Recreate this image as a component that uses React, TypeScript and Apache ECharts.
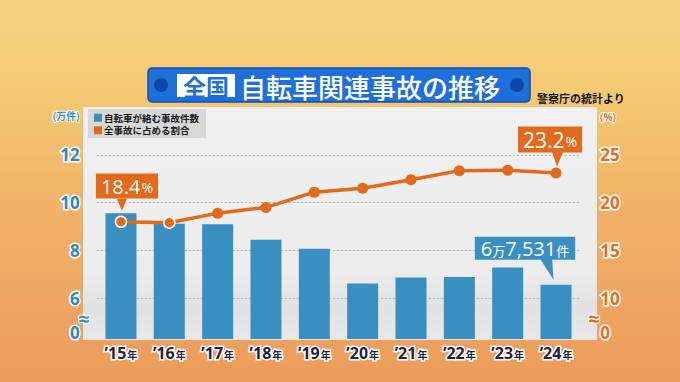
import React, { useEffect, useRef } from "react";
import * as echarts from "echarts";

// ---- data ----
const years = ["15", "16", "17", "18", "19", "20", "21", "22", "23", "24"];
// bicycle-related accidents (10k cases)
const accidents = [9.56, 9.12, 9.09, 8.45, 8.07, 6.61, 6.87, 6.89, 7.28, 6.56];
// share of all accidents (%)
const shares = [18.0, 17.9, 18.9, 19.5, 21.1, 21.5, 22.4, 23.35, 23.4, 23.1];
const leftTicks = [0, 6, 8, 10, 12];
const rightTicks = [0, 10, 15, 20, 25];
const firstShareText = "18.4";
const lastShareText = "23.2";
const lastCountText = ["6", "万", "7,531", "件"];
const seriesNames = ["自転車が絡む事故件数", "全事故に占める割合"];

// broken axis mapping
const G = 1.71;
const Y_MAX = 9.715;
const ZERO_LABEL_T = 0.29;
const tL = (v: number) => (v >= 6 ? v - 6 + G : (v * G) / 6);
const tR = (p: number) => (p >= 10 ? (p - 10) / 2.5 + G : (p * G) / 10);

const BLUE = "#3a8fc2";
const ORANGE = "#e3691b";
const FONT = "'Open Sans', 'Noto Sans CJK JP', sans-serif";
const JP = "'Noto Sans CJK JP', sans-serif";

function labelFor(t: number, ticks: number[], f: (x: number) => number) {
  if (t < 1) return "0";
  for (const v of ticks) if (Math.abs(f(v) - t) < 0.01) return String(v);
  return "";
}

function buildOption(extra: any[]) {
  const bg = new echarts.graphic.LinearGradient(0, 0, 0, 1, [
    { offset: 0, color: "#f6d382" },
    { offset: 0.25, color: "#f4c972" },
    { offset: 0.5, color: "#f1b468" },
    { offset: 0.8, color: "#eea562" },
    { offset: 1, color: "#ec9c5a" },
  ]);
  const panel = new echarts.graphic.LinearGradient(0, 0, 0, 1, [
    { offset: 0, color: "#f0f0f0" },
    { offset: 0.72, color: "#ececec" },
    { offset: 0.86, color: "#e1e1e1" },
    { offset: 1, color: "#e8e8e8" },
  ]);
  const graphic: any[] = [
    { type: "rect", z: -20, shape: { x: 0, y: 0, width: 680, height: 382 }, style: { fill: bg } },
    { type: "rect", z: -10, shape: { x: 83, y: 107, width: 514, height: 233 }, style: { fill: panel } },
    { type: "rect", z: 50, shape: { x: 148, y: 68, width: 382, height: 34, r: 4 }, style: { fill: "#1f6fdb", stroke: "#0e4fb5", lineWidth: 1.5 } },
    { type: "circle", z: 51, shape: { cx: 161, cy: 85, r: 7 }, style: { fill: "#0c46a6" } },
    { type: "circle", z: 51, shape: { cx: 517, cy: 85, r: 7 }, style: { fill: "#0c46a6" } },
    { type: "rect", z: 51, shape: { x: 177, y: 74, width: 58, height: 23 }, style: { fill: "#ffffff" } },
    { type: "text", z: 52, x: 206, y: 86, style: { text: "全国", fill: "#1f6fdb", font: `bold 23px ${JP}`, align: "center", verticalAlign: "middle" } },
    { type: "text", z: 52, x: 240, y: 86, style: { text: "自転車関連事故の推移", fill: "#ffffff", font: `500 26px ${JP}`, align: "left", verticalAlign: "middle" } },
    { type: "text", z: 52, x: 537, y: 98, style: { text: "警察庁の統計より", fill: "#111111", font: `bold 11px ${JP}`, align: "left", verticalAlign: "middle" } },
    { type: "text", z: 52, x: 80, y: 115, style: { text: "(万件)", fill: BLUE, stroke: "#ffffff", lineWidth: 2, font: `bold 10px ${JP}`, align: "right", verticalAlign: "middle" } },
    { type: "text", z: 52, x: 600, y: 117, style: { text: "(%)", fill: "#e0782a", stroke: "#ffffff", lineWidth: 2, font: `bold 10px ${FONT}`, align: "left", verticalAlign: "middle" } },
    { type: "text", z: 52, x: 84, y: 318, style: { text: "≈", fill: BLUE, stroke: "#ffffff", lineWidth: 2, font: `bold 20px ${FONT}`, align: "center", verticalAlign: "middle" } },
    { type: "text", z: 52, x: 594, y: 318, style: { text: "≈", fill: ORANGE, stroke: "#ffffff", lineWidth: 2, font: `bold 20px ${FONT}`, align: "center", verticalAlign: "middle" } },
    ...extra,
  ];

  const barData = accidents.map((v, i) =>
    i === accidents.length - 1
      ? {
          value: tL(v),
          label: {
            show: true,
            position: "top",
            distance: 25,
            offset: [-31, 0],
            backgroundColor: BLUE,
            padding: [1, 6, 0, 6],
            formatter: `{a|${lastCountText[0]}}{b|${lastCountText[1]}}{a|${lastCountText[2]}}{b|${lastCountText[3]}}`,
            rich: {
              a: { fontSize: 20, color: "#fff", fontFamily: FONT, height: 22 },
              b: { fontSize: 13, color: "#fff", fontFamily: JP, padding: [4, 0, 0, 0] },
            },
          },
        }
      : tL(v)
  );

  const lineData = shares.map((p, i) => {
    const base: any = { value: tR(p) };
    if (i < 2) base.itemStyle = { borderColor: "#ffffff", borderWidth: 1.5 };
    if (i === 0)
      base.label = {
        show: true,
        position: "top",
        distance: 17,
        offset: [6, 0],
        backgroundColor: ORANGE,
        padding: [1, 5, 0, 5],
        formatter: `{a|${firstShareText}}{b|%}`,
        rich: { a: { fontSize: 20, color: "#fff", fontFamily: FONT, height: 24 }, b: { fontSize: 14, color: "#fff", fontFamily: FONT, padding: [3, 0, 0, 1] } },
      };
    if (i === shares.length - 1)
      base.label = {
        show: true,
        position: "top",
        distance: 15,
        offset: [-6, 0],
        backgroundColor: ORANGE,
        padding: [1, 5, 0, 5],
        formatter: `{a|${lastShareText}}{b|%}`,
        rich: { a: { fontSize: 21, color: "#fff", fontFamily: FONT, height: 25 }, b: { fontSize: 14, color: "#fff", fontFamily: FONT, padding: [3, 0, 0, 1] } },
      };
    return base;
  });

  return {
    animation: false,
    textStyle: { fontFamily: FONT },
    grid: { left: 96.8, right: 99.8, top: 107, bottom: 43, containLabel: false },
    legend: {
      left: 88,
      top: 109,
      orient: "vertical",
      icon: "rect",
      itemWidth: 8,
      itemHeight: 8,
      itemGap: 3,
      padding: [4, 7, 3, 6],
      backgroundColor: "#d8d8d8",
      textStyle: { fontSize: 9.5, fontWeight: "bold", color: "#1a1a1a", fontFamily: JP, padding: [0, 0, 0, -3] },
      data: seriesNames,
    },
    graphic,
    xAxis: {
      type: "category",
      data: years,
      axisLine: { show: false },
      axisTick: { show: false },
      axisLabel: {
        interval: 0,
        margin: 6,
        formatter: (v: string) => `{a|’${v}}{b|年}`,
        rich: {
          a: { fontSize: 16, fontWeight: "bold", color: "#1c2440", textBorderColor: "#ffffff", textBorderWidth: 3, fontFamily: FONT },
          b: { fontSize: 10, fontWeight: "bold", color: "#1c2440", textBorderColor: "#ffffff", textBorderWidth: 3, fontFamily: JP, padding: [3, 0, 0, 1] },
        },
      },
    },
    yAxis: [
      {
        type: "value",
        min: 0,
        max: Y_MAX,
        axisLine: { show: false },
        axisTick: { show: false, customValues: leftTicks.slice(1).map(tL) },
        splitLine: { show: true, lineStyle: { color: "#b5b5b5", type: [2, 2], width: 1 } },
        axisLabel: {
          customValues: [ZERO_LABEL_T, ...leftTicks.slice(1).map(tL)],
          formatter: (t: number) => labelFor(t, leftTicks, tL),
          margin: 17,
          fontSize: 17,
          fontWeight: "bold",
          color: "#2f88c2",
          textBorderColor: "#ffffff",
          textBorderWidth: 3,
        },
      },
      {
        type: "value",
        min: 0,
        max: Y_MAX,
        position: "right",
        axisLine: { show: false },
        axisTick: { show: false, customValues: rightTicks.slice(1).map(tR) },
        splitLine: { show: false },
        axisLabel: {
          customValues: [ZERO_LABEL_T, ...rightTicks.slice(1).map(tR)],
          formatter: (t: number) => labelFor(t, rightTicks, tR),
          margin: 20,
          fontSize: 17,
          fontWeight: "bold",
          color: "#e0701e",
          textBorderColor: "#ffffff",
          textBorderWidth: 3,
        },
      },
    ],
    series: [
      {
        name: seriesNames[0],
        type: "bar",
        yAxisIndex: 0,
        barWidth: 31,
        itemStyle: { color: BLUE },
        data: barData,
        z: 2,
      },
      {
        name: seriesNames[1],
        type: "line",
        yAxisIndex: 1,
        symbol: "circle",
        symbolSize: 11,
        lineStyle: { color: ORANGE, width: 3.5 },
        itemStyle: { color: ORANGE },
        data: lineData,
        z: 5,
      },
    ],
  };
}

export default function App() {
  const ref = useRef<HTMLDivElement>(null);
  useEffect(() => {
    if (!ref.current) return;
    const chart = echarts.init(ref.current, null, { renderer: "svg" });
    chart.setOption(buildOption([]));
    const last = years.length - 1;
    const p0 = chart.convertToPixel({ xAxisIndex: 0, yAxisIndex: 1 }, [0, tR(shares[0])]) as number[];
    const p1 = chart.convertToPixel({ xAxisIndex: 0, yAxisIndex: 1 }, [last, tR(shares[last])]) as number[];
    const b1 = chart.convertToPixel({ xAxisIndex: 0, yAxisIndex: 0 }, [last, tL(accidents[last])]) as number[];
    const pointers = [
      {
        type: "polygon",
        z: 20,
        shape: { points: [[p0[0] - 4, p0[1] - 23], [p0[0] + 6, p0[1] - 23], [p0[0] + 1, p0[1] - 11]] },
        style: { fill: ORANGE },
      },
      {
        type: "polygon",
        z: 20,
        shape: { points: [[p1[0] - 4, p1[1] - 21], [p1[0] + 7, p1[1] - 21], [p1[0] + 1, p1[1] - 6.5]] },
        style: { fill: ORANGE },
      },
      {
        type: "polygon",
        z: 20,
        shape: { points: [[b1[0] - 16, b1[1] - 26], [b1[0] - 4, b1[1] - 26], [b1[0] - 2.5, b1[1] - 5]] },
        style: { fill: BLUE },
      },
    ];
    chart.setOption(buildOption(pointers), true);
    return () => chart.dispose();
  }, []);
  return <div ref={ref} style={{ width: 680, height: 382, position: "absolute", left: 0, top: 0 }} />;
}
